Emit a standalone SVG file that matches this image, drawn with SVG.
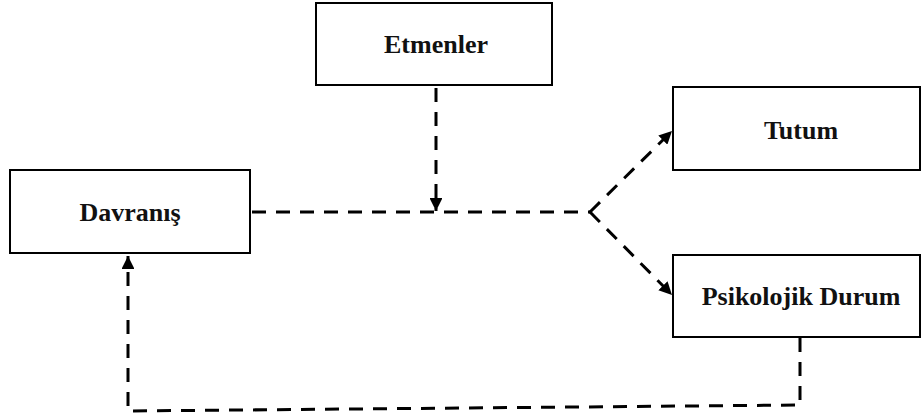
<svg xmlns="http://www.w3.org/2000/svg" width="922" height="420" viewBox="0 0 922 420">
  <style>
    .box { fill: #fff; stroke: #000; stroke-width: 2; }
    .lbl { font-family: "Liberation Serif", "Times New Roman", serif; font-weight: bold; font-size: 26px; fill: #111; text-anchor: middle; }
    .dash { fill: none; stroke: #000; stroke-width: 3; stroke-dasharray: 14 10; }
  </style>
  <defs>
    <marker id="arrow" viewBox="0 0 10 10" refX="10" refY="5" markerWidth="4.3" markerHeight="4.3" markerUnits="strokeWidth" orient="auto">
      <path d="M0,0 L10,5 L0,10 Z" fill="#000"/>
    </marker>
  </defs>
  <rect width="922" height="420" fill="#fff"/>

  <g id="connectors">
    <!-- Davranış to fork -->
    <path class="dash" d="M252,212 L590,212"/>
    <!-- Etmenler down to the main line -->
    <path class="dash" d="M436,88 L436,211" marker-end="url(#arrow)"/>
    <!-- fork branches -->
    <path class="dash" d="M590,212 L672,131" marker-end="url(#arrow)"/>
    <path class="dash" d="M590,212 L672,295" marker-end="url(#arrow)"/>
    <!-- feedback loop from Psikolojik Durum back to Davranış -->
    <path class="dash" d="M800,338 L800,405 L128,411 L128,256" marker-end="url(#arrow)"/>
  </g>

  <g id="node-davranis">
    <rect class="box" x="10" y="170" width="240" height="83"/>
    <text class="lbl" x="130" y="221">Davranış</text>
  </g>
  <g id="node-etmenler">
    <rect class="box" x="316" y="3" width="236" height="82"/>
    <text class="lbl" x="436" y="53">Etmenler</text>
  </g>
  <g id="node-tutum">
    <rect class="box" x="673" y="87" width="247" height="83"/>
    <text class="lbl" x="801" y="139">Tutum</text>
  </g>
  <g id="node-psikolojik">
    <rect class="box" x="673" y="255" width="247" height="82"/>
    <text class="lbl" x="801" y="305">Psikolojik Durum</text>
  </g>
</svg>
